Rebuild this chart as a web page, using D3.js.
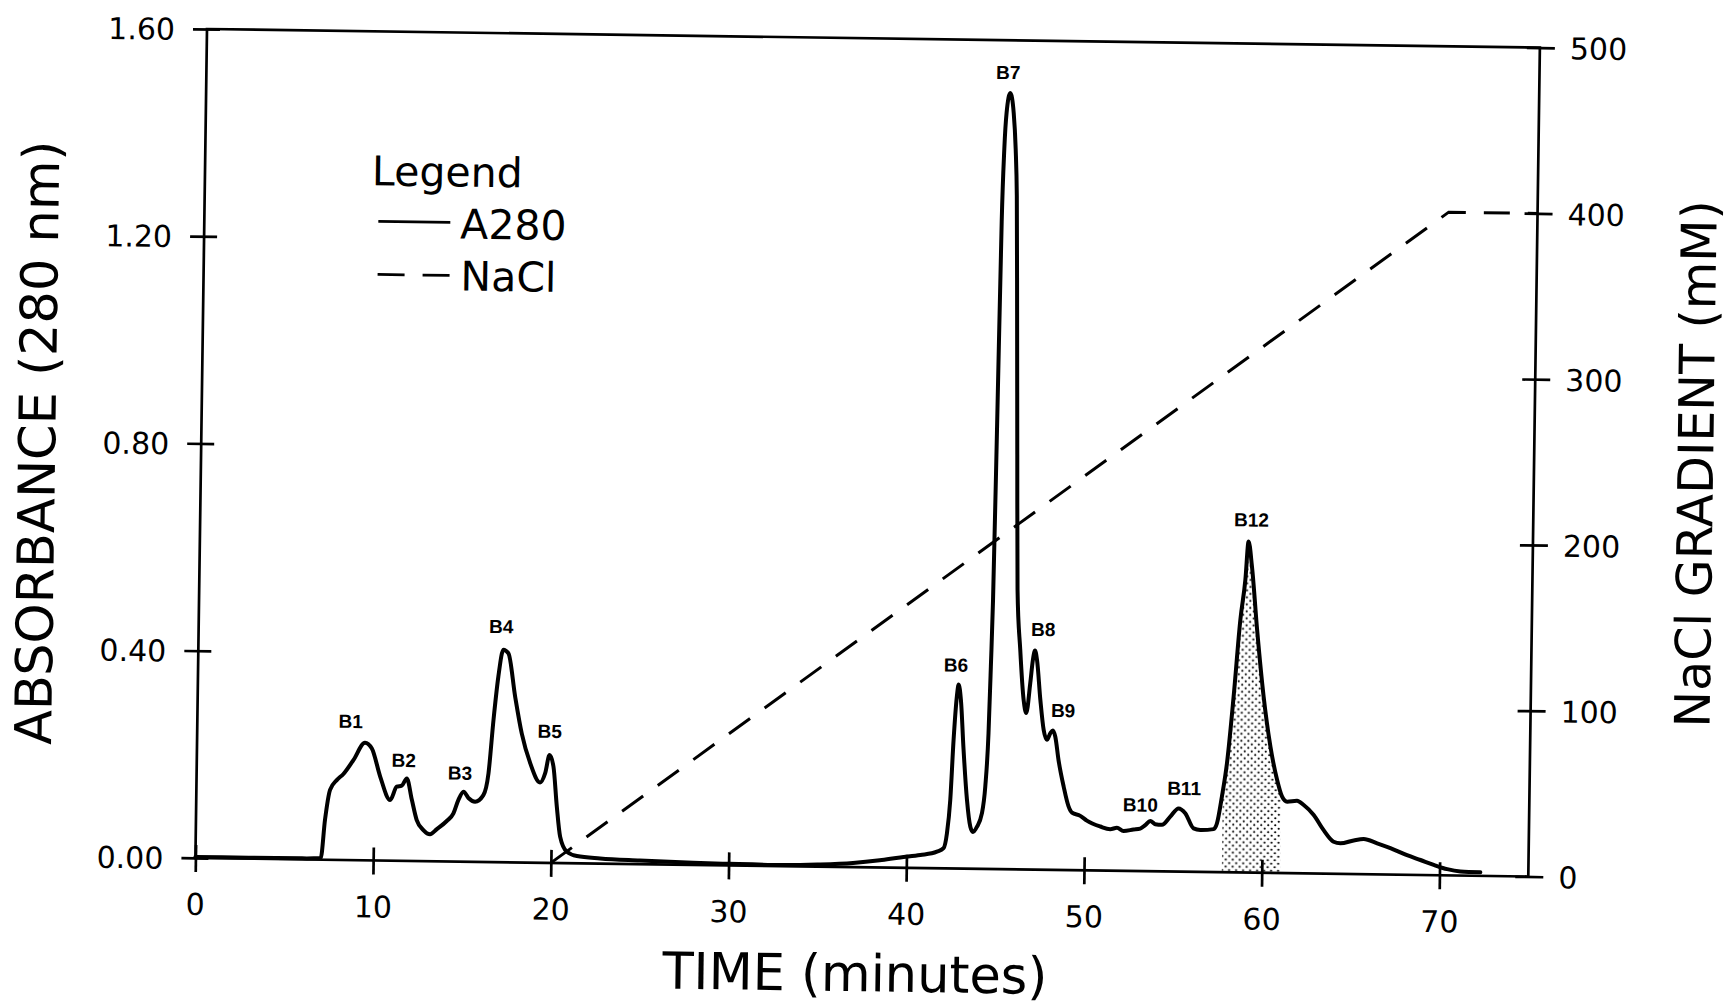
<!DOCTYPE html>
<html><head><meta charset="utf-8">
<script src="https://cdn.jsdelivr.net/npm/d3@7"></script>
<style>html,body{margin:0;padding:0;background:#fff;} svg{display:block;}</style>
</head><body>
<svg id="chart" width="1733" height="1007"></svg>
<script>
// ---- data ----
const timeA280 = [0, 3, 6, 7.05, 7.26, 7.52, 7.89, 8.26, 8.81, 9.45, 9.84, 10.33, 10.91, 11.27, 11.55, 11.83, 12.13, 12.42, 12.8, 13.18, 13.56, 14.11, 14.48, 14.75, 15.03, 15.31, 15.69, 16.15, 16.42, 16.66, 16.9, 17.16, 17.45, 17.86, 18.26, 18.76, 19.33, 19.61, 19.84, 20.07, 20.29, 20.5, 20.89, 21.46, 22.77, 25, 28, 30, 33, 35, 37, 38.5, 39.65, 40.78, 41.71, 42.08, 42.26, 42.42, 42.56, 42.71, 42.8, 42.94, 43.13, 43.36, 43.57, 43.72, 43.94, 44.21, 44.38, 44.52, 44.6, 44.67, 44.76, 44.86, 44.95, 45.05, 45.24, 45.45, 45.59, 45.69, 45.8, 45.92, 46.04, 46.24, 46.47, 46.63, 46.83, 46.96, 47.07, 47.19, 47.41, 47.62, 47.81, 48.0, 48.14, 48.28, 48.48, 48.79, 49.08, 49.28, 49.75, 50.12, 50.88, 51.44, 51.82, 52.19, 52.75, 53.13, 53.41, 53.69, 53.97, 54.35, 54.81, 55.27, 55.65, 56.13, 56.51, 57.26, 57.44, 57.7, 57.96, 58.28, 58.6, 58.85, 59.0, 59.21, 59.55, 59.97, 60.39, 60.79, 61.08, 61.37, 61.93, 62.31, 62.88, 63.45, 64.02, 64.4, 65.15, 65.71, 66.47, 67.22, 68.16, 68.92, 69.67, 70.43, 71.18, 72.3];
const absA280 = [0.002, 0.002, 0.002, 0.003, 0.077, 0.135, 0.154, 0.166, 0.193, 0.227, 0.216, 0.162, 0.117, 0.143, 0.145, 0.159, 0.118, 0.079, 0.060, 0.052, 0.062, 0.078, 0.093, 0.119, 0.135, 0.123, 0.116, 0.129, 0.171, 0.274, 0.358, 0.410, 0.403, 0.320, 0.249, 0.192, 0.155, 0.173, 0.208, 0.186, 0.109, 0.051, 0.022, 0.014, 0.010, 0.007, 0.004, 0.003, 0.002, 0.004, 0.008, 0.014, 0.020, 0.025, 0.032, 0.039, 0.068, 0.132, 0.248, 0.332, 0.355, 0.326, 0.229, 0.133, 0.081, 0.071, 0.081, 0.107, 0.159, 0.262, 0.391, 0.52, 0.85, 1.25, 1.39, 1.46, 1.498, 1.46, 1.39, 1.30, 1.07, 0.80, 0.54, 0.424, 0.327, 0.302, 0.360, 0.405, 0.423, 0.405, 0.328, 0.270, 0.251, 0.264, 0.269, 0.257, 0.212, 0.161, 0.123, 0.111, 0.105, 0.096, 0.085, 0.080, 0.083, 0.077, 0.080, 0.082, 0.089, 0.097, 0.091, 0.090, 0.106, 0.122, 0.113, 0.084, 0.081, 0.083, 0.094, 0.146, 0.211, 0.339, 0.488, 0.565, 0.639, 0.591, 0.469, 0.340, 0.244, 0.180, 0.148, 0.138, 0.140, 0.132, 0.113, 0.084, 0.062, 0.059, 0.065, 0.068, 0.060, 0.051, 0.038, 0.029, 0.020, 0.012, 0.008, 0.007];

const timeNaCl = [20, 70, 75];
const concNaCl = [0, 400, 400];

const peakNames = ["B1", "B2", "B3", "B4", "B5", "B6", "B7", "B8", "B9", "B10", "B11", "B12"];
const peakTime  = [8.63, 11.65, 14.82, 17.02, 19.84, 42.64, 45.11, 47.52, 48.7, 53.12, 55.57, 59.15];
const peakAbs   = [0.255, 0.181, 0.158, 0.442, 0.241, 0.380, 1.525, 0.451, 0.295, 0.115, 0.148, 0.668];

const shadeRange = [57.75, 61.03];

const xTicks = [0, 10, 20, 30, 40, 50, 60, 70];
const xTickLabels = ["0", "10", "20", "30", "40", "50", "60", "70"];
const yTicks = [0, 0.4, 0.8, 1.2, 1.6];
const yTickLabels = ["0.00", "0.40", "0.80", "1.20", "1.60"];
const rTicks = [0, 100, 200, 300, 400, 500];
const rTickLabels = ["0", "100", "200", "300", "400", "500"];

const legendTitle = "Legend";
const legendNames = ["A280", "NaCl"];

// ---- layout ----
const L = 207, T = 29, PW = 1333, PH = 829;
const font = "'DejaVu Sans', sans-serif";
const svg = d3.select("#chart");
svg.append("rect").attr("width", 1733).attr("height", 1007).attr("fill", "#fff");
const g = svg.append("g").attr("transform", "rotate(0.8 207 29)");

const x = d3.scaleLinear().domain([0, 75]).range([L, L + PW]);
const y = d3.scaleLinear().domain([0, 1.6]).range([T + PH, T]);
const yR = d3.scaleLinear().domain([0, 500]).range([T + PH, T]);

// dotted pattern for the shaded fraction
const defs = svg.append("defs");
const pat = defs.append("pattern").attr("id", "dots").attr("patternUnits", "userSpaceOnUse")
  .attr("width", 7).attr("height", 7);
pat.append("circle").attr("cx", 1.75).attr("cy", 1.75).attr("r", 1.1).attr("fill", "#000");
pat.append("circle").attr("cx", 5.25).attr("cy", 5.25).attr("r", 1.1).attr("fill", "#000");
defs.append("clipPath").attr("id", "shadeClip").append("rect")
  .attr("x", x(shadeRange[0])).attr("y", T).attr("width", x(shadeRange[1]) - x(shadeRange[0])).attr("height", PH);

const a280 = timeA280.map((t, i) => ({t, a: absA280[i]}));
const nacl = timeNaCl.map((t, i) => ({t, c: concNaCl[i]}));

// shaded area
const area = d3.area().x(d => x(d.t)).y0(y(0)).y1(d => y(d.a)).curve(d3.curveMonotoneX);
g.append("path").datum(a280).attr("d", area).attr("fill", "url(#dots)").attr("clip-path", "url(#shadeClip)");

const AX = 2.7;
// frame
g.append("rect").attr("x", L).attr("y", T).attr("width", PW).attr("height", PH)
  .attr("fill", "none").attr("stroke", "#000").attr("stroke-width", AX);

// x axis
const xa = g.append("g").attr("transform", `translate(0,${T + PH})`)
  .call(d3.axisBottom(x).tickValues(xTicks).tickSize(13).tickFormat((d, i) => xTickLabels[i]));
xa.select(".domain").remove();
xa.selectAll(".tick line").attr("y1", -13).attr("y2", 14).attr("stroke", "#000").attr("stroke-width", AX);
xa.selectAll(".tick text").attr("y", 57).attr("dy", null).attr("font-size", 30)
  .attr("font-family", font).attr("fill", "#000");

// left axis
const la = g.append("g").attr("transform", `translate(${L},0)`)
  .call(d3.axisLeft(y).tickValues(yTicks).tickSize(13).tickFormat((d, i) => yTickLabels[i]));
la.select(".domain").remove();
la.selectAll(".tick line").attr("x1", -14).attr("x2", 13).attr("stroke", "#000").attr("stroke-width", AX);
la.selectAll(".tick text").attr("x", -32).attr("dy", "0.36em").attr("font-size", 30)
  .attr("font-family", font).attr("fill", "#000");

// right axis
const ra = g.append("g").attr("transform", `translate(${L + PW},0)`)
  .call(d3.axisRight(yR).tickValues(rTicks).tickSize(13).tickFormat((d, i) => rTickLabels[i]));
ra.select(".domain").remove();
ra.selectAll(".tick line").attr("x1", -13).attr("x2", 15).attr("stroke", "#000").attr("stroke-width", AX);
ra.selectAll(".tick text").attr("x", 30).attr("dy", "0.36em").attr("font-size", 30)
  .attr("font-family", font).attr("fill", "#000");

// NaCl gradient (dashed)
const lineN = d3.line().x(d => x(d.t)).y(d => yR(d.c));
g.append("path").datum(nacl).attr("d", lineN).attr("fill", "none").attr("stroke", "#000")
  .attr("stroke-width", 3).attr("stroke-dasharray", "26 18");

// A280 trace
const lineA = d3.line().x(d => x(d.t)).y(d => y(d.a)).curve(d3.curveMonotoneX);
g.append("path").datum(a280).attr("d", lineA).attr("fill", "none").attr("stroke", "#000")
  .attr("stroke-width", 4).attr("stroke-linejoin", "round").attr("stroke-linecap", "round");

// peak labels
g.selectAll("text.peak").data(peakNames).enter().append("text").attr("class", "peak")
  .attr("x", (d, i) => x(peakTime[i])).attr("y", (d, i) => y(peakAbs[i]))
  .attr("text-anchor", "middle").attr("font-family", "'Liberation Sans', Arial, sans-serif")
  .attr("font-weight", "bold").attr("font-size", 19).attr("fill", "#000").text(d => d);

// legend
const lg = g.append("g");
lg.append("text").attr("x", 374).attr("y", 183).attr("font-family", font).attr("font-size", 41).text(legendTitle);
lg.append("line").attr("x1", 381).attr("x2", 453).attr("y1", 219).attr("y2", 219)
  .attr("stroke", "#000").attr("stroke-width", 2.8);
lg.append("line").attr("x1", 381).attr("x2", 453).attr("y1", 272).attr("y2", 272)
  .attr("stroke", "#000").attr("stroke-width", 2.8).attr("stroke-dasharray", "27 18");
lg.append("text").attr("x", 463).attr("y", 235).attr("font-family", font).attr("font-size", 41).text(legendNames[0]);
lg.append("text").attr("x", 464).attr("y", 287).attr("font-family", font).attr("font-size", 41).text(legendNames[1]);

// axis titles
g.append("text").attr("x", 868).attr("y", 982).attr("text-anchor", "middle")
  .attr("font-family", font).attr("font-size", 51).text("TIME (minutes)");
g.append("text").attr("transform", "translate(61,445) rotate(-90)").attr("text-anchor", "middle")
  .attr("font-family", font).attr("font-size", 51).text("ABSORBANCE (280 nm)");
g.append("text").attr("transform", "translate(1719,443) rotate(-90)").attr("text-anchor", "middle")
  .attr("font-family", font).attr("font-size", 49).text("NaCl GRADIENT (mM)");
</script>
</body></html>
